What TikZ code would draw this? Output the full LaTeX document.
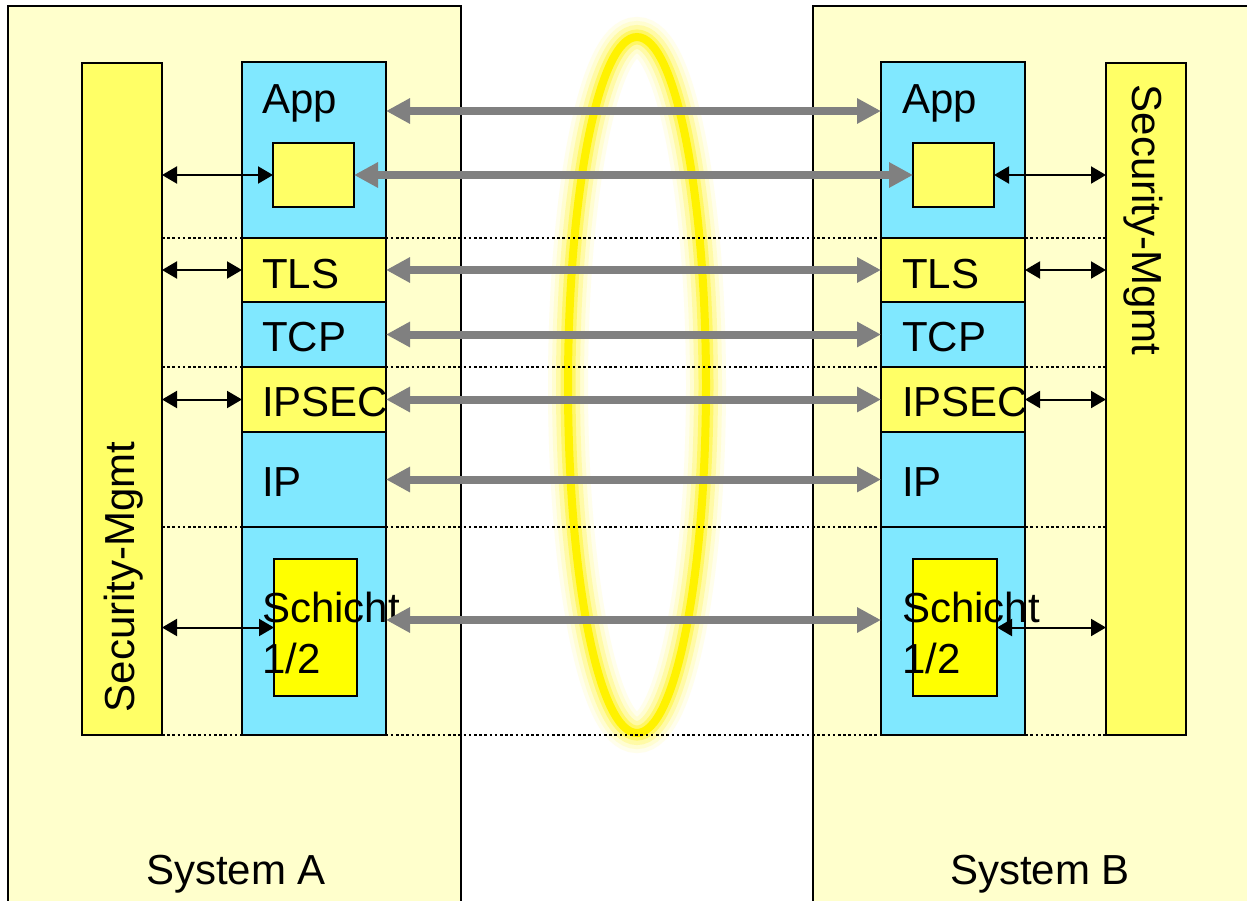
\documentclass[tikz,border=0pt]{standalone}
\usepackage{fontspec}
\setmainfont{Liberation Sans}
\usetikzlibrary{arrows.meta}
\definecolor{sysbg}{HTML}{FFFFCC}
\definecolor{ylw}{HTML}{FFFF66}
\definecolor{cyn}{HTML}{80E8FF}
\definecolor{ylwS}{HTML}{FFFF00}
\definecolor{garr}{HTML}{808080}
\begin{document}
\begin{tikzpicture}[x=1pt,y=-1pt,
  box/.style={draw=black, line width=2pt, inner sep=0pt, outer sep=0pt, anchor=north west},
  lbl/.style={anchor=base west, inner sep=0pt, font=\fontsize{42}{50}\selectfont},
  vlbl/.style={inner sep=0pt, font=\fontsize{42}{50}\selectfont},
  garrow/.style={draw=garr, line width=8pt, {Triangle[length=24pt,width=24pt]}-{Triangle[length=24pt,width=24pt]}},
  karrow/.style={draw=black, line width=2pt, {Triangle[length=15pt,width=17pt]}-{Triangle[length=15pt,width=17pt]}},
  sepline/.style={line width=2.6pt, dash pattern=on 2.6pt off 2.6pt},
  glow/.style={line width=#1}]
\useasboundingbox (0,0) rectangle (1247,900);
\clip (0,0) rectangle (1247,900);
\fill[white] (0,0) rectangle (1247,900);
% systems
\node[box, fill=sysbg, minimum width=453pt, minimum height=950pt] (sysA) at (8,6) {};
\node[box, fill=sysbg, minimum width=500pt, minimum height=950pt] (sysB) at (813,6) {};
% security bars
\node[box, fill=ylw, minimum width=80pt, minimum height=672pt] (secA) at (82,63) {};
\node[box, fill=ylw, minimum width=80pt, minimum height=672pt] (secB) at (1106,63) {};
% glowing ellipse
\draw[yellow!8, glow=40pt] (637,385) ellipse [x radius=69, y radius=348];
\draw[yellow!18, glow=32pt] (637,385) ellipse [x radius=69, y radius=348];
\draw[yellow!35, glow=24pt] (637,385) ellipse [x radius=69, y radius=348];
\draw[yellow!60, glow=15pt] (637,385) ellipse [x radius=69, y radius=348];
\draw[yellow, glow=8pt] (637,385) ellipse [x radius=69, y radius=348];
% dotted separators
\coordinate (ybot) at (0,735);
\draw[sepline] (secA.east |- 0,238) -- (secB.west |- 0,238);
\draw[sepline] (secA.east |- 0,367) -- (secB.west |- 0,367);
\draw[sepline] (secA.east |- 0,527) -- (secB.west |- 0,527);
\draw[sepline] (secA.east |- ybot) -- (secB.west |- ybot);
% stack A
\node[box, fill=cyn, minimum width=144pt, minimum height=176pt] (appA) at (242,62) {};
\node[box, fill=ylw, minimum width=144pt, minimum height=64pt] (tlsA) at (242,238) {};
\node[box, fill=cyn, minimum width=144pt, minimum height=65pt] (tcpA) at (242,302) {};
\node[box, fill=ylw, minimum width=144pt, minimum height=65pt] (ipsecA) at (242,367) {};
\node[box, fill=cyn, minimum width=144pt, minimum height=95pt] (ipA) at (242,432) {};
\node[box, fill=cyn, minimum width=144pt, minimum height=208pt] (schA) at (242,527) {};
\node[box, fill=ylw, minimum width=81pt, minimum height=64pt] (smA) at (273,143) {};
\node[box, fill=ylwS, minimum width=83pt, minimum height=137pt] (innA) at (274,559) {};
% stack B
\node[box, fill=cyn, minimum width=144pt, minimum height=176pt] (appB) at (881,62) {};
\node[box, fill=ylw, minimum width=144pt, minimum height=64pt] (tlsB) at (881,238) {};
\node[box, fill=cyn, minimum width=144pt, minimum height=65pt] (tcpB) at (881,302) {};
\node[box, fill=ylw, minimum width=144pt, minimum height=65pt] (ipsecB) at (881,367) {};
\node[box, fill=cyn, minimum width=144pt, minimum height=95pt] (ipB) at (881,432) {};
\node[box, fill=cyn, minimum width=144pt, minimum height=208pt] (schB) at (881,527) {};
\node[box, fill=ylw, minimum width=81pt, minimum height=64pt] (smB) at (913,143) {};
\node[box, fill=ylwS, minimum width=84pt, minimum height=137pt] (innB) at (913,559) {};
% labels
\node[lbl] (tAppA) at (262,113) {App};
\node[lbl] (tTlsA) at (262,288) {TLS};
\node[lbl] (tTcpA) at (262,351) {TCP};
\node[lbl] (tIpsecA) at (262,416) {IPSEC};
\node[lbl] (tIpA) at (262,496) {IP};
\node[lbl] (tSchA) at (262,622) {Schicht};
\node[lbl] (tSchA2) at (262,673) {1/2};
\node[lbl] (tAppB) at (902,113) {App};
\node[lbl] (tTlsB) at (902,288) {TLS};
\node[lbl] (tTcpB) at (902,351) {TCP};
\node[lbl] (tIpsecB) at (902,416) {IPSEC};
\node[lbl] (tIpB) at (902,496) {IP};
\node[lbl] (tSchB) at (902,622) {Schicht};
\node[lbl] (tSchB2) at (902,673) {1/2};
\node[vlbl, rotate=90] (tSecA) at (124,577) {Security-Mgmt};
\node[vlbl, rotate=-90] (tSecB) at (1143,220) {Security-Mgmt};
\node[lbl] (tSysA) at (146,884) {System A};
\node[lbl] (tSysB) at (950,884) {System B};
% gray peer arrows
\coordinate (yapp) at (0,111);
\coordinate (ysch) at (0,620);
\draw[garrow] (appA.east |- yapp) -- (appB.west |- yapp);
\draw[garrow] (smA.east) -- (smB.west);
\draw[garrow] (tlsA.east) -- (tlsB.west);
\draw[garrow] (tcpA.east) -- (tcpB.west);
\draw[garrow] (ipsecA.east) -- (ipsecB.west);
\draw[garrow] (ipA.east) -- (ipB.west);
\draw[garrow] (schA.east |- ysch) -- (schB.west |- ysch);
% black management arrows
\draw[karrow] (secA.east |- smA.west) -- (smA.west);
\draw[karrow] (secA.east |- tlsA.west) -- (tlsA.west);
\draw[karrow] (secA.east |- ipsecA.west) -- (ipsecA.west);
\draw[karrow] (secA.east |- innA.west) -- (innA.west);
\draw[karrow] (smB.east) -- (secB.west |- smB.east);
\draw[karrow] (tlsB.east) -- (secB.west |- tlsB.east);
\draw[karrow] (ipsecB.east) -- (secB.west |- ipsecB.east);
\draw[karrow] (innB.east) -- (secB.west |- innB.east);
\end{tikzpicture}
\end{document}
